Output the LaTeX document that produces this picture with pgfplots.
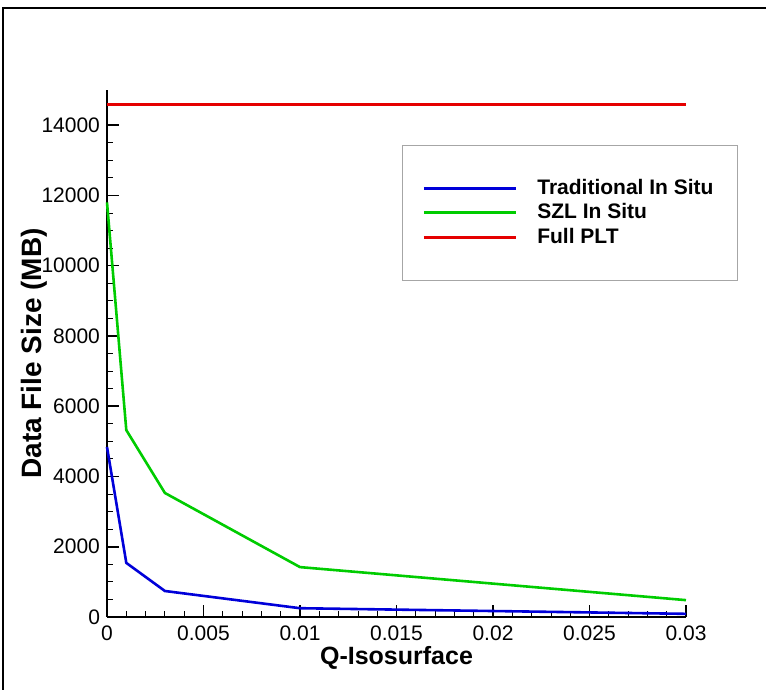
\documentclass[border=0pt]{standalone}
\usepackage{pgfplots}
\pgfplotsset{compat=1.18}
\usepackage{fontspec}
\setmainfont{Liberation Sans}
\begin{document}
\begin{tikzpicture}[x=0.5pt,y=0.5pt]
% page = 766 x 690 px, axis origin at (107,617) px
\useasboundingbox (-107,-73) rectangle (659,617);
\draw[black,line width=0.6pt] (-104,-73) -- (-104,609) -- (659,609);
\begin{axis}[
 at={(0,0)}, anchor=origin,
 scale only axis,
 width=289.5pt, height=263.5pt,
 xmin=0, xmax=0.03, ymin=0, ymax=15000,
 scaled ticks=false,
 axis x line*=bottom, axis y line*=left,
 axis line style={line width=1pt,-},
 xtick={0,0.005,0.01,0.015,0.02,0.025,0.03},
 xticklabels={0,0.005,0.01,0.015,0.02,0.025,0.03},
 ytick={0,2000,4000,6000,8000,10000,12000,14000},
 yticklabels={0,2000,4000,6000,8000,10000,12000,14000},
 minor x tick num=4, minor y tick num=3,
 tick align=inside,
 major tick length=6pt, minor tick length=3pt,
 every tick/.style={black,line width=0.8pt},
 minor tick style={line width=0.4pt},
 tick label style={font=\fontsize{10.5}{12}\selectfont},
 xticklabel style={yshift=-1pt},
 xlabel={\bfseries Q-Isosurface},
 ylabel={\bfseries Data File Size (MB)},
 xlabel style={font=\fontsize{12.5}{14}\selectfont, yshift=4pt},
 ylabel style={font=\fontsize{14}{16}\selectfont, yshift=-10pt},
 clip=false,
 legend style={at={(1.0,0.8957)}, anchor=north east, xshift=26pt,
   draw=gray!70, line width=0.5pt, font=\bfseries\fontsize{10.5}{12}\selectfont,
   inner xsep=10pt, inner ysep=15pt, row sep=-1pt,
   /tikz/every odd column/.append style={column sep=8pt}},
 legend cell align=left,
 legend image code/.code={\draw[#1] (0,0) -- (46pt,0);},
]
\addplot[blue!85!black,line width=1.3pt] coordinates {(0,4840) (0.001,1540) (0.003,740) (0.01,250) (0.03,90)};
\addlegendentry{Traditional In Situ}
\addplot[green!80!black,line width=1.3pt] coordinates {(0,11800) (0.001,5320) (0.003,3530) (0.01,1420) (0.03,480)};
\addlegendentry{SZL In Situ}
\addplot[red!90!black,line width=1.5pt] coordinates {(0,14600) (0.03,14600)};
\addlegendentry{Full PLT}
\end{axis}
\end{tikzpicture}
\end{document}
